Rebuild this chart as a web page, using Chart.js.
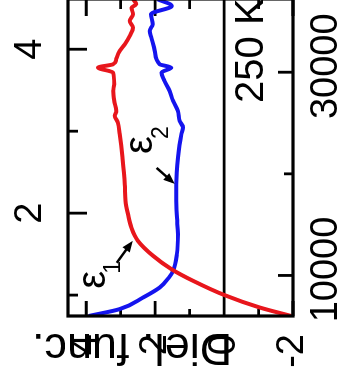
<!DOCTYPE html>
<html>
<head>
<meta charset="utf-8">
<script src="https://cdn.jsdelivr.net/npm/chart.js@4.4.1/dist/chart.umd.min.js"></script>
<style>
  html, body { margin: 0; padding: 0; background: #fff; overflow: hidden; }
  body { width: 341px; height: 378px; position: relative; }
  /* panel is laid out landscape, then turned a quarter turn to the left */
  #panel { position: absolute; left: 0; top: 0; width: 381px; height: 341px;
           transform-origin: 0 0; transform: translate(0, 378px) rotate(-90deg); }
  #dielChart { display: block; }
</style>
</head>
<body>
<div id="panel"><canvas id="dielChart" width="381" height="341"></canvas></div>
<script>
const CM_PER_EV = 8065.54;

// photon energy (eV) and dielectric function, 250 K
const energy1 = [0.745, 0.849, 1.0, 1.174, 1.317, 1.479, 1.662, 1.824, 1.988, 2.15, 2.354, 2.678,
                 2.963, 3.105, 3.187, 3.248, 3.37, 3.491, 3.573, 3.715, 3.776, 3.817, 3.878, 3.98,
                 4.061, 4.162, 4.263, 4.345, 4.427, 4.507, 4.549, 4.61];
const eps1    = [-1.95, -1.03, -0.01, 0.90, 1.53, 2.06, 2.50, 2.69, 2.79, 2.86, 2.88, 2.95,
                 3.03, 3.08, 3.17, 3.13, 3.19, 3.22, 3.19, 3.22, 3.66, 3.22, 3.13, 3.03,
                 2.88, 2.74, 2.64, 2.74, 2.64, 2.69, 2.55, 2.64];

const energy2 = [0.745, 0.829, 0.971, 1.093, 1.215, 1.296, 1.5, 1.744, 1.946, 2.15, 2.354, 2.678,
                 2.963, 3.044, 3.126, 3.248, 3.37, 3.491, 3.613, 3.715, 3.776, 3.817, 3.979,
                 4.141, 4.223, 4.305, 4.427, 4.528, 4.61];
const eps2    = [3.93, 3.03, 2.35, 1.87, 1.60, 1.48, 1.37, 1.34, 1.37, 1.39, 1.39, 1.34,
                 1.24, 1.19, 1.29, 1.34, 1.48, 1.58, 1.73, 1.82, 1.53, 1.87, 2.01,
                 2.11, 2.16, 2.07, 2.12, 1.52, 1.93];

const energyTicks = [2, 4];
const energyMinor = [1, 3];
const waveTicks = [10000, 30000];
const waveMinor = [20000];
const dielTicks = [-2, 0, 2, 4];
const dielMinor = [-1, 1, 3];

const E_MIN = 0.745, E_MAX = 4.613;
const FONT = "'Liberation Sans', Arial, sans-serif";
const RED = '#e8161c';
const BLUE = '#1414ee';

// labels with arrows, positions in (eV, eps) units
const epsNotes = [
  { sub: '1', at: [1.077, 3.46], subAt: [1.26, 3.03], from: [1.394, 3.116], to: [1.662, 2.652] },
  { sub: '2', at: [2.723, 2.10], subAt: [2.906, 1.64], from: [2.552, 1.957], to: [2.357, 1.435] }
];

function arrow(ctx, x1, y1, x2, y2) {
  const ang = Math.atan2(y2 - y1, x2 - x1), h = 12;
  ctx.beginPath();
  ctx.moveTo(x1, y1);
  ctx.lineTo(x2 - Math.cos(ang) * h * 0.8, y2 - Math.sin(ang) * h * 0.8);
  ctx.stroke();
  ctx.beginPath();
  ctx.moveTo(x2, y2);
  ctx.lineTo(x2 - h * Math.cos(ang - 0.38), y2 - h * Math.sin(ang - 0.38));
  ctx.lineTo(x2 - h * Math.cos(ang + 0.38), y2 - h * Math.sin(ang + 0.38));
  ctx.closePath();
  ctx.fill();
}

const panelMarks = {
  id: 'panelMarks',
  beforeDatasetsDraw(chart) {
    const { ctx, chartArea: a, scales } = chart;
    const { x, x2, y } = scales;
    ctx.save();
    ctx.strokeStyle = '#000';
    ctx.lineWidth = 2.8;
    ctx.beginPath();
    // zero line
    const y0 = y.getPixelForValue(0);
    ctx.moveTo(a.left, y0); ctx.lineTo(a.right, y0);
    // inward ticks on all four sides
    energyTicks.forEach(v => { const p = x.getPixelForValue(v); ctx.moveTo(p, a.top); ctx.lineTo(p, a.top + 19); });
    energyMinor.forEach(v => { const p = x.getPixelForValue(v); ctx.moveTo(p, a.top); ctx.lineTo(p, a.top + 10); });
    waveTicks.forEach(v => { const p = x2.getPixelForValue(v); ctx.moveTo(p, a.bottom); ctx.lineTo(p, a.bottom - 15); });
    waveMinor.forEach(v => { const p = x2.getPixelForValue(v); ctx.moveTo(p, a.bottom); ctx.lineTo(p, a.bottom - 9); });
    dielTicks.forEach(v => {
      const p = y.getPixelForValue(v);
      ctx.moveTo(a.left, p); ctx.lineTo(a.left + 15, p);
      ctx.moveTo(a.right, p); ctx.lineTo(a.right - 17, p);
    });
    dielMinor.forEach(v => {
      const p = y.getPixelForValue(v);
      ctx.moveTo(a.left, p); ctx.lineTo(a.left + 7, p);
      ctx.moveTo(a.right, p); ctx.lineTo(a.right - 10, p);
    });
    ctx.stroke();
    ctx.restore();
  },
  afterDatasetsDraw(chart) {
    const { ctx, chartArea: a, scales } = chart;
    const { x, y } = scales;
    ctx.save();
    ctx.strokeStyle = '#000';
    ctx.fillStyle = '#000';
    ctx.lineWidth = 3.2;
    ctx.strokeRect(a.left, a.top, a.right - a.left, a.bottom - a.top);

    ctx.textAlign = 'left';
    ctx.textBaseline = 'alphabetic';
    ctx.lineWidth = 2.5;
    epsNotes.forEach(n => {
      ctx.font = '40px ' + FONT;
      ctx.fillText('ε', x.getPixelForValue(n.at[0]), y.getPixelForValue(n.at[1]));
      ctx.font = '23px ' + FONT;
      ctx.fillText(n.sub, x.getPixelForValue(n.subAt[0]), y.getPixelForValue(n.subAt[1]));
      arrow(ctx, x.getPixelForValue(n.from[0]), y.getPixelForValue(n.from[1]),
                 x.getPixelForValue(n.to[0]), y.getPixelForValue(n.to[1]));
    });

    ctx.font = '40px ' + FONT;
    ctx.fillText('250 K', x.getPixelForValue(3.345), y.getPixelForValue(-1.116));

    // axis title sits over the tick labels
    ctx.translate(a.left - 18, y.getPixelForValue(2.67));
    ctx.rotate(-Math.PI / 2);
    ctx.textAlign = 'center';
    ctx.font = '45px ' + FONT;
    ctx.fillText('Diel. func.', 0, 0);
    ctx.restore();
  }
};

const tickFont = { family: FONT, size: 38 };

new Chart(document.getElementById('dielChart'), {
  type: 'line',
  data: {
    datasets: [
      { label: 'eps1', data: energy1.map((e, i) => ({ x: e, y: eps1[i] })), borderColor: RED,
        borderWidth: 4, pointRadius: 0, cubicInterpolationMode: 'monotone', xAxisID: 'x', yAxisID: 'y' },
      { label: 'eps2', data: energy2.map((e, i) => ({ x: e, y: eps2[i] })), borderColor: BLUE,
        borderWidth: 4, pointRadius: 0, cubicInterpolationMode: 'monotone', xAxisID: 'x', yAxisID: 'y' }
    ]
  },
  options: {
    responsive: false, animation: false,
    layout: { autoPadding: false, padding: { left: 0, right: 2, top: 0, bottom: 0 } },
    plugins: { legend: { display: false }, tooltip: { enabled: false } },
    scales: {
      x: {
        type: 'linear', position: 'top', min: E_MIN, max: E_MAX,
        grid: { display: false, drawTicks: false }, border: { display: false },
        afterBuildTicks: s => { s.ticks = energyTicks.map(v => ({ value: v })); },
        afterFit: s => { s.height = 68; },
        ticks: { font: tickFont, color: '#000', padding: 15, maxRotation: 0, autoSkip: false, callback: v => String(v) }
      },
      x2: {
        type: 'linear', position: 'bottom', min: E_MIN * CM_PER_EV, max: E_MAX * CM_PER_EV,
        grid: { display: false, drawTicks: false }, border: { display: false },
        afterBuildTicks: s => { s.ticks = waveTicks.map(v => ({ value: v })); },
        afterFit: s => { s.height = 48; },
        ticks: { font: tickFont, color: '#000', padding: 11, labelOffset: 6, maxRotation: 0, autoSkip: false, callback: v => String(v) }
      },
      y: {
        type: 'linear', position: 'left', min: -2, max: 4.53,
        grid: { display: false, drawTicks: false }, border: { display: false },
        afterBuildTicks: s => { s.ticks = dielTicks.map(v => ({ value: v })); },
        afterFit: s => { s.width = 62; },
        ticks: { font: tickFont, color: '#000', padding: 18, autoSkip: false, callback: v => String(v) }
      }
    }
  },
  plugins: [panelMarks]
});
</script>
</body>
</html>
